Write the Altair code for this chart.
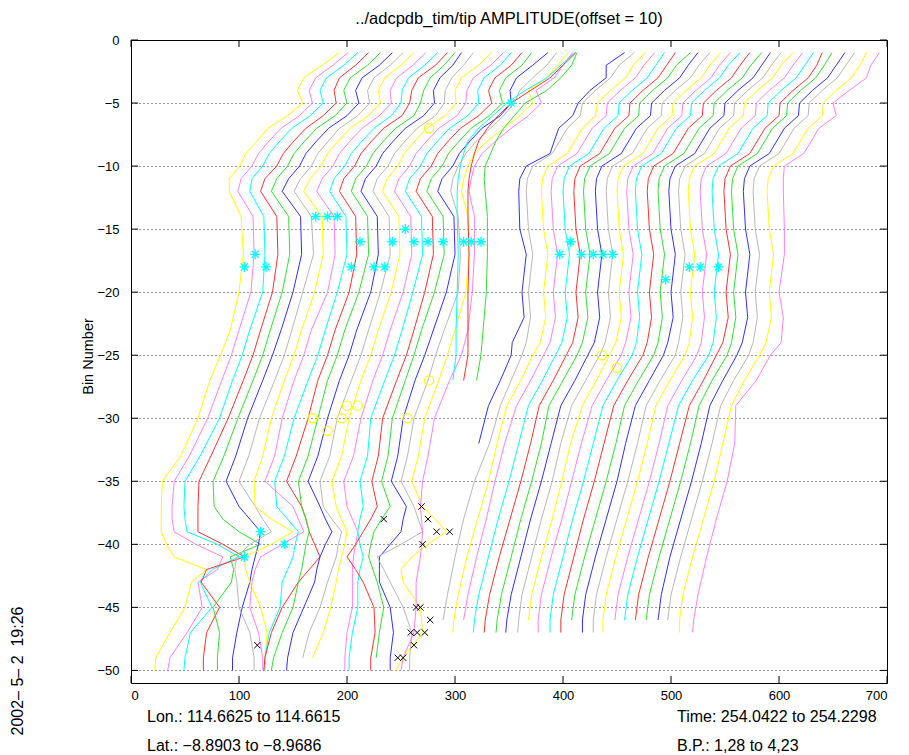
import altair as alt
import pandas as pd

# ---------------- data ----------------
COLORS = ["#ffff00", "#ff7fff", "#00ffff", "#ff3030", "#30e030", "#3030ff", "#b8b8b8"]

XTICKS = [0, 100, 200, 300, 400, 500, 600, 700]
YTICKS = [0, -5, -10, -15, -20, -25, -30, -35, -40, -45, -50]

# bins sampled for left-hand group of profiles (reach bin -50)
BINS_L = [-1, -2, -3, -4, -5, -6, -7, -8, -9, -10, -11, -12, -14, -17, -20, -23, -25, -27,
          -30, -33, -35, -37, -38, -39, -40, -41, -42, -43, -45, -47, -49, -50]
P00 = [193,177,160,154,159,145,127,117,106,101,91,91,102,104,100,92,83,73,62,46,29,28,28,28,33,40,70,56,50,36,23,22]
P01 = [201,187,171,165,168,156,139,128,118,112,102,99,113,114,111,100,93,84,71,54,40,38,38,40,60,85,80,62,66,52,36,34]
P02 = [210,197,181,175,178,166,149,138,128,122,112,110,123,124,122,110,103,94,82,64,50,49,50,52,80,100,75,64,75,55,50,49]
P03 = [220,208,193,188,190,178,162,151,141,135,124,120,135,136,131,120,113,104,90,74,63,62,62,62,85,105,70,65,82,70,67,67]
P04 = [231,219,203,197,200,189,172,161,151,145,135,130,146,147,140,129,122,113,99,86,76,77,85,100,120,92,95,93,76,82,80,80]
P05 = [242,230,214,208,211,200,183,172,162,156,146,140,157,158,150,139,131,122,108,97,88,100,110,120,118,115,112,110,103,98,94,94]
P06 = [252,240,225,219,221,210,193,183,173,167,157,151,167,169,159,149,142,133,119,109,100,115,122,130,110,98,96,98,100,110,114,114]
P07 = [262,250,235,229,231,220,203,192,182,176,166,160,177,178,170,158,151,142,130,122,114,115,130,150,130,105,106,110,120,126,124,124]
P08 = [273,261,246,240,241,230,214,203,193,187,177,172,188,189,182,167,160,151,140,133,124,150,155,160,140,120,115,112,110,118,122,122]
P09 = [284,272,257,251,250,241,225,214,204,198,188,184,199,200,191,180,173,164,151,142,133,135,145,155,152,150,145,140,138,128,124,124]
P10 = [293,282,266,260,258,251,234,223,213,207,197,193,208,209,202,189,182,173,164,153,144,158,162,165,170,175,165,155,140,130,124,123]
P11 = [300,290,277,271,268,262,245,234,224,218,208,204,219,220,211,198,191,182,173,164,155,158,162,165,162,160,158,155,150,140,132,130]
P12 = [306,298,286,280,281,271,254,243,233,227,217,213,228,229,222,209,202,193,182,173,164,175,180,186,180,175,172,170,160,150,145,144]
P13 = [317,308,297,291,290,282,265,254,244,238,228,224,239,240,231,220,213,204,191,184,175,178,186,195,192,190,186,182,175,165,159,None]
P14 = [334,322,306,300,301,291,274,263,253,247,237,233,248,249,241,229,222,213,202,195,186,190,195,200,198,195,192,190,185,178,168,None]
P15 = [345,333,317,311,310,302,285,274,264,258,248,244,259,260,252,240,233,224,213,206,197,200,205,210,208,206,205,205,205,200,198,198]
P16 = [352,342,327,321,322,312,295,284,274,268,258,254,269,270,261,251,244,235,222,219,212,215,212,210,212,215,212,210,210,205,202,202]
P17 = [362,352,337,331,334,322,305,294,284,278,268,264,279,280,272,262,255,246,233,229,223,228,222,215,208,200,208,215,225,226,222,222]
P18 = [371,362,347,341,344,332,315,304,294,288,278,274,289,290,281,269,262,254,242,238,232,240,232,225,222,220,224,228,234,230,227,None]
P19 = [386,372,357,351,352,342,325,314,304,298,288,284,299,300,292,280,272,263,252,247,241,255,252,250,240,230,230,230,240,243,240,240]
P20 = [394,385,372,360,355,345,333,320,310,303,298,296,303,305,303,290,282,275,262,256,250,262,266,270,250,228,234,240,252,260,258,258]
P21 = [405,395,385,368,372,360,345,330,318,312,308,306,312,313,310,300,293,285,272,266,260,270,282,292,275,260,250,252,268,270,252,245]
P22 = [409,400,392,375,380,368,352,338,325,318,315,313,318,318,316,312,306,295,281,275,270,268,269,270,269,268,266,264,264,262,252,250]
P23 = [411,398,385,365,348,335,322,312,308,305,303,302,302,303,302,301,301,298,None,None,None,None,None,None,None,None,None,None,None,None,None,None]
P24 = [412,400,388,370,352,340,330,322,318,315,313,312,312,313,312,312,312,308,None,None,None,None,None,None,None,None,None,None,None,None,None,None]
P25 = [413,408,398,385,365,355,345,338,333,328,327,328,330,330,329,326,324,320,None,None,None,None,None,None,None,None,None,None,None,None,None,None]

# bins sampled for right-hand group of profiles (end near bin -46/-47)
BINS_R = [-1, -2, -3, -4, -5, -6, -7, -9, -10, -11, -12, -15, -17, -20, -22, -24, -25, -27,
          -29, -32, -35, -38, -41, -44, -46, -47]
P26 = [457,440,440,425,414,409,396,388,366,360,359,360,366,362,364,353,352,342,331,322,None,None,None,None,None,None]
P27 = [466,452,444,430,418,416,404,390,372,367,366,368,372,368,370,366,362,352,342,332,318,308,300,293,289,None]
P28 = [476,465,458,444,432,430,418,404,386,381,380,382,386,382,384,379,372,361,348,339,331,321,311,303,299,298]
P29 = [485,475,467,453,441,440,427,413,395,390,389,391,395,391,393,388,382,370,357,346,337,329,320,312,308,None]
P30 = [494,486,478,464,452,451,438,424,406,401,400,402,406,402,404,399,393,381,368,359,350,340,331,322,318,317]
P31 = [504,496,488,474,462,461,448,434,416,411,410,412,416,412,414,409,403,391,378,370,361,351,341,332,328,327]
P32 = [518,505,497,483,471,470,457,443,425,420,419,421,425,421,423,418,413,400,387,380,371,361,352,343,339,338]
P33 = [525,516,508,494,482,481,468,454,436,431,430,432,436,432,434,429,423,411,398,389,380,370,361,352,348,347]
P34 = [536,526,518,504,492,491,478,464,446,441,440,442,446,442,444,439,434,421,408,398,390,380,371,362,359,358]
P35 = [546,536,528,514,502,501,488,474,456,451,450,452,456,452,454,449,443,431,418,407,399,390,380,371,368,None]
P36 = [555,545,537,523,511,510,497,483,465,460,459,461,465,461,463,458,454,440,427,417,408,399,389,380,377,377]
P37 = [564,553,545,531,519,518,505,491,473,468,467,469,473,469,471,468,464,450,437,428,419,409,400,391,388,388]
P38 = [573,564,556,542,530,529,516,502,484,479,478,480,484,480,482,478,474,460,447,438,429,419,410,401,398,398]
P39 = [584,574,566,552,540,539,526,512,494,489,488,490,494,490,492,488,484,470,457,449,440,430,420,411,408,None]
P40 = [592,584,576,562,550,549,536,522,504,499,498,500,504,500,502,497,493,480,467,458,450,440,430,421,418,418]
P41 = [602,593,585,571,559,558,545,531,513,508,507,509,513,509,511,507,504,490,477,469,460,450,440,431,428,428]
P42 = [613,602,594,580,568,567,554,540,522,517,516,518,522,518,520,517,513,499,486,478,469,459,449,440,437,437]
P43 = [622,613,605,591,579,578,565,551,533,528,527,529,533,529,531,528,524,510,497,489,480,470,460,451,448,None]
P44 = [632,624,616,602,590,589,576,562,544,539,538,540,544,540,542,539,535,520,507,498,489,479,469,460,457,None]
P45 = [640,635,627,613,601,600,587,573,555,550,549,551,555,551,553,548,542,530,517,508,499,489,479,470,467,None]
P46 = [649,642,634,620,608,607,594,580,562,557,556,558,562,558,560,556,552,538,526,518,509,499,489,480,477,None]
P47 = [661,653,645,631,619,618,605,591,573,568,567,569,573,569,571,566,561,548,536,528,519,509,499,491,488,None]
P48 = [670,662,654,640,628,627,614,600,582,577,576,578,582,578,580,576,572,558,546,538,529,519,509,500,497,None]
P49 = [681,675,667,653,641,640,627,613,595,590,589,591,595,591,593,588,582,568,556,548,540,530,520,511,508,508]
P50 = [693,685,681,665,650,653,637,623,605,604,604,605,605,600,604,602,592,579,560,559,552,542,533,525,521,520]

LEFT = [P00, P01, P02, P03, P04, P05, P06, P07, P08, P09, P10, P11, P12,
        P13, P14, P15, P16, P17, P18, P19, P20, P21, P22, P23, P24, P25]
RIGHT = [P26, P27, P28, P29, P30, P31, P32, P33, P34, P35, P36, P37, P38,
         P39, P40, P41, P42, P43, P44, P45, P46, P47, P48, P49, P50]

# markers
STAR_X = [171, 182, 191, 254, 212, 242, 262, 275, 289, 308, 315, 324, 407, 115, 397, 417, 428, 437, 446,
          105, 125, 204, 225, 235, 517, 527, 544, 495, 120, 142, 105, 352]
STAR_Y = [-14, -14, -14, -15, -16, -16, -16, -16, -16, -16, -16, -16, -16, -17, -17, -17, -17, -17, -17,
          -18, -18, -18, -18, -18, -18, -18, -18, -19, -39, -40, -41, -5]
CIRC_X = [276, 168, 182, 195, 200, 210, 256, 276, 436, 450]
CIRC_Y = [-7, -30, -31, -30, -29, -29, -30, -27, -25, -26]
XMARK_X = [269, 275, 234, 283, 295, 270, 264, 268, 277, 259, 265, 272, 262, 117, 247, 252]
XMARK_Y = [-37, -38, -38, -39, -39, -40, -45, -45, -46, -47, -47, -47, -48, -48, -49, -49]

TITLE = "../adcpdb_tim/tip AMPLITUDE(offset = 10)"
YTITLE = "Bin Number"
FOOT_L = ["Lon.: 114.6625 to 114.6615", "Lat.: \u22128.8903 to \u22128.9686"]
FOOT_R = ["Time: 254.0422 to 254.2298", "B.P.: 1,28 to 4,23"]
STAMP = "2002\u2013\u00a05\u2013\u00a02\u00a0\u00a019:26"

# ---------------- build ----------------
W, H = 756, 643
FONT = "Liberation Sans"

rows = []
for k, xs in enumerate(LEFT + RIGHT):
    bins = BINS_L if k < len(LEFT) else BINS_R
    for s, (b, v) in enumerate(zip(bins, xs)):
        if v is not None:
            rows.append({"profile": f"p{k:02d}", "step": s, "bin": b, "amp": v})
df = pd.DataFrame(rows)
pids = [f"p{k:02d}" for k in range(len(LEFT) + len(RIGHT))]
prange = [COLORS[k % len(COLORS)] for k in range(len(pids))]

xscale = alt.Scale(domain=[0, 700], nice=False, zero=False)
yscale = alt.Scale(domain=[-51, 0], nice=False, zero=False)

xaxis = alt.Axis(values=XTICKS, ticks=False, domain=False, grid=False, title=None,
                 labelFontSize=13, labelFont=FONT, labelColor="black", labelPadding=6)
yaxis = alt.Axis(values=YTICKS, ticks=False, domain=False, grid=True, gridDash=[1, 3],
                 gridColor="#000000", gridOpacity=0.8, title=YTITLE, titleFont=FONT,
                 titleFontSize=14.5, titleFontWeight="normal", titleColor="black",
                 titleX=-43, titleY=316, titleAngle=270, titleBaseline="middle", titleAlign="center",
                 labelFontSize=13, labelFont=FONT, labelColor="black", labelPadding=12)

X = lambda f: alt.X(f, scale=xscale, axis=xaxis)
Y = lambda f: alt.Y(f, scale=yscale, axis=yaxis)

lines = alt.Chart(df).mark_line(strokeWidth=1).encode(
    x=X("amp:Q"),
    y=Y("bin:Q"),
    color=alt.Color("profile:N", scale=alt.Scale(domain=pids, range=prange), legend=None),
    detail="profile:N",
    order="step:Q",
)

STAR = "M-1,0L1,0M0,-1L0,1M-0.7,-0.7L0.7,0.7M-0.7,0.7L0.7,-0.7"
XSHAPE = "M-1,-1L1,1M-1,1L1,-1"

stars = alt.Chart(pd.DataFrame({"x": STAR_X, "y": STAR_Y})).mark_point(
    shape=STAR, size=100, filled=False, stroke="#00ffff", strokeWidth=1.3, opacity=1
).encode(x=X("x:Q"), y=Y("y:Q"))

circs = alt.Chart(pd.DataFrame({"x": CIRC_X, "y": CIRC_Y})).mark_point(
    shape="circle", size=85, filled=False, stroke="#ffff00", strokeWidth=1.2, opacity=1
).encode(x=X("x:Q"), y=Y("y:Q"))

xmarks = alt.Chart(pd.DataFrame({"x": XMARK_X, "y": XMARK_Y})).mark_point(
    shape=XSHAPE, size=40, filled=False, stroke="#000000", strokeWidth=1, opacity=1
).encode(x=X("x:Q"), y=Y("y:Q"))

# inward tick marks on all four sides
xt = pd.DataFrame({"t": XTICKS})
yt = pd.DataFrame({"t": YTICKS})
tb = alt.Chart(xt).mark_rule(color="black").encode(
    x=X("t:Q"), y=alt.value(H), y2=alt.value(H - 7))
tt = alt.Chart(xt).mark_rule(color="black").encode(
    x=X("t:Q"), y=alt.value(0), y2=alt.value(7))
tl = alt.Chart(yt).mark_rule(color="black").encode(
    y=Y("t:Q"), x=alt.value(0), x2=alt.value(7))
tr = alt.Chart(yt).mark_rule(color="black").encode(
    y=Y("t:Q"), x=alt.value(W), x2=alt.value(W - 7))

def label(text, x, y, size, align="left", angle=0, baseline="alphabetic"):
    return alt.Chart(pd.DataFrame({"t": [text]})).mark_text(
        align=align, baseline=baseline, fontSize=size, font=FONT, color="black", angle=angle
    ).encode(text="t:N", x=alt.value(x), y=alt.value(y))

texts = [
    label(TITLE, W / 2, -16, 16.5, align="center"),
    label(FOOT_L[0], 16, 682, 16),
    label(FOOT_L[1], 16, 711, 16),
    label(FOOT_R[0], 546, 682, 16),
    label(FOOT_R[1], 546, 711, 16),
    label(STAMP, -113, 631, 16, align="center", angle=270, baseline="middle"),
]

chart = alt.layer(lines, stars, circs, xmarks, tb, tt, tl, tr, *texts).properties(
    width=W, height=H,
    autosize=alt.AutoSizeParams(type="none"),
    padding={"left": 131, "top": 40, "right": 22, "bottom": 72},
    background="white",
).configure_view(stroke="black", strokeWidth=1)

chart.save("out.html", embed_options={"renderer": "svg", "actions": False})
